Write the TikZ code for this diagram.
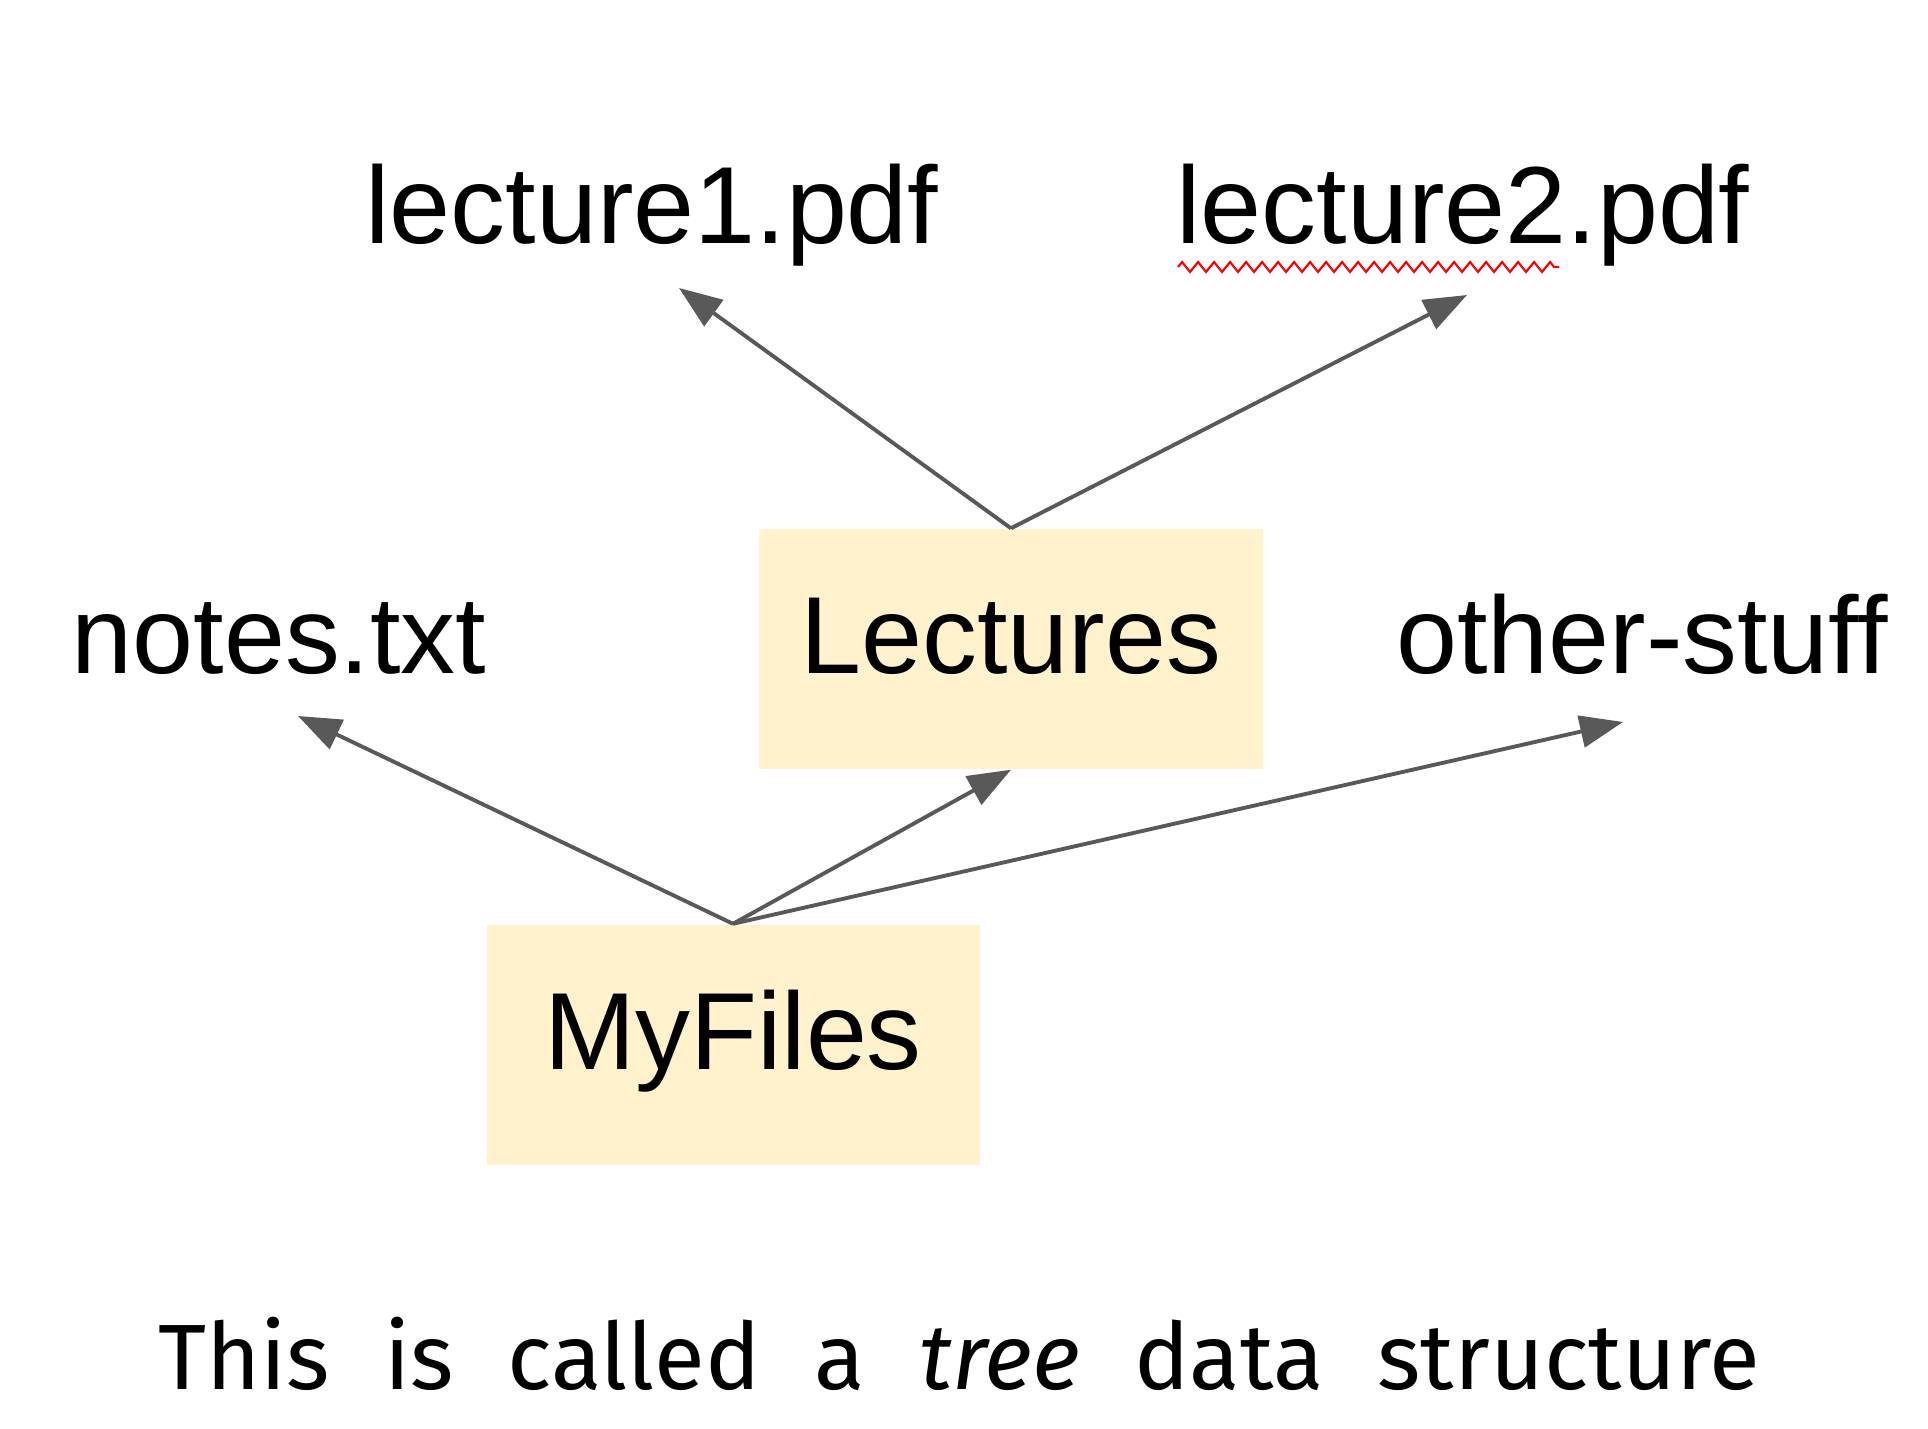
\documentclass[tikz,border=0pt]{standalone}
\usepackage{fontspec}
\setmainfont{Liberation Sans}
\newfontfamily\handfont[WordSpace=2.2]{Fira Sans}
\usetikzlibrary{positioning,arrows.meta,decorations.pathmorphing}
\definecolor{boxfill}{HTML}{FFF2CC}
\definecolor{arrowgray}{HTML}{595959}

\begin{document}
\begin{tikzpicture}[
    box/.style={fill=boxfill, minimum height=2.4cm, text height=0.79cm, text depth=0.29cm, font=\fontsize{31.2}{37}\selectfont},
    file/.style={inner sep=0pt, anchor=base, font=\fontsize{31.2}{37}\selectfont},
    arrow/.style={-{Triangle[length=0.43cm,width=0.32cm]}, line width=1.1pt, arrowgray}
]
\useasboundingbox (0,0) rectangle (19.28,14.28);

% ========== FOLDERS ==========
\node[box, minimum width=5.04cm] (lectures) at (10.11,7.79) {Lectures};
\node[box, minimum width=4.93cm] (myfiles) at (7.33,3.835) {MyFiles};

% ========== FILES ==========
\node[file] (lec1) at (6.52,11.845) {lecture1.pdf};
\node[file] (lec2) at (14.63,11.845) {lecture2.pdf};
\node[file] (notes) at (2.79,7.54) {notes.txt};
\node[file] (other) at (16.42,7.54) {other-stuff};

% spell check mark under lecture2
\draw[red, line width=0.6pt, decorate, decoration={zigzag, segment length=0.16cm, amplitude=0.05cm}] (11.78,11.61) -- (15.59,11.61);

% ========== ARROWS ==========
\coordinate (lec1tip) at (6.79,11.40);
\coordinate (lec2tip) at (14.67,11.33);
\coordinate (notestip) at (2.98,7.12);
\coordinate (othertip) at (16.23,7.06);

\draw[arrow] (lectures.north) -- (lec1tip);
\draw[arrow] (lectures.north) -- (lec2tip);
\draw[arrow] (myfiles.north) -- (notestip);
\draw[arrow] (myfiles.north) -- (lectures.south);
\draw[arrow] (myfiles.north) -- (othertip);

% ========== CAPTION ==========
\node[anchor=base, inner sep=0pt, font=\handfont\fontsize{26.4}{32}\selectfont] (caption) at (9.59,0.39) {This is called a \textit{tree} data structure};

\end{tikzpicture}
\end{document}
